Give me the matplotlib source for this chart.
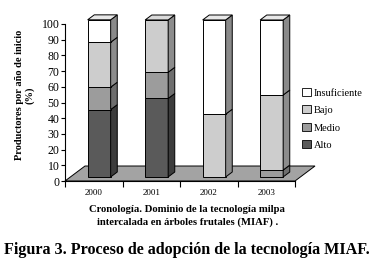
import numpy as np
import matplotlib
matplotlib.use('Agg')
import matplotlib.pyplot as plt
from matplotlib.patches import Polygon, Patch

plt.rcParams['font.family'] = ['Liberation Serif', 'DejaVu Serif']

# data (percent of producers per start year)
years = ['2000', '2001', '2002', '2003']
alto = [42.9, 50.0, 0.0, 0.0]
medio = [14.3, 16.7, 0.0, 4.4]
bajo = [28.6, 33.3, 40.0, 47.8]
insuficiente = [14.3, 0.0, 60.0, 47.8]

series = [alto, medio, bajo, insuficiente]
names = ['Alto', 'Medio', 'Bajo', 'Insuficiente']
front_cols = ['#5a5a5a', '#9c9c9c', '#cdcdcd', '#ffffff']
side_cols = ['#3c3c3c', '#6e6e6e', '#8c8c8c', '#8a8a8a']
top_cols = ['#707070', '#b0b0b0', '#dadada', '#e8e8e8']

# fake 3d depth, in data units (x in categories, y in percent)
DX, DY = 0.348, 9.55
d0, d1 = 0.27, 0.60
width = 0.4

fig = plt.figure(figsize=(3.73, 2.70), dpi=100)
ax = fig.add_axes([65 / 373, 89 / 270, 230 / 373, 157 / 270])
ax.set_xlim(0, 4)
ax.set_ylim(0, 100)

# floor
floor = Polygon([(0, 0), (4, 0), (4 + DX, DY), (DX, DY)], closed=True,
                facecolor='#a3a3a3', edgecolor='black', lw=0.7, zorder=1,
                clip_on=False)
ax.add_patch(floor)

sx0, sy0 = d0 * DX, d0 * DY
ddx, ddy = (d1 - d0) * DX, (d1 - d0) * DY
for i in range(len(years)):
    left = i + 0.5 - width / 2 + sx0
    right = left + width
    bottom = 0.0
    vals = [s[i] for s in series]
    top_idx = max(k for k in range(4) if vals[k] > 0)
    for k in range(4):
        v = vals[k]
        if v <= 0:
            continue
        yb, yt = bottom + sy0, bottom + v + sy0
        ax.bar(left, v, width=width, bottom=bottom + sy0, align='edge',
               color=front_cols[k], edgecolor='black', lw=0.7, zorder=3,
               clip_on=False)
        side = Polygon([(right, yb), (right + ddx, yb + ddy),
                        (right + ddx, yt + ddy), (right, yt)], closed=True,
                       facecolor=side_cols[k], edgecolor='black', lw=0.7,
                       zorder=3, clip_on=False)
        ax.add_patch(side)
        if k == top_idx:
            top = Polygon([(left, yt), (left + ddx, yt + ddy),
                           (right + ddx, yt + ddy), (right, yt)], closed=True,
                          facecolor=top_cols[k], edgecolor='black', lw=0.7,
                          zorder=3, clip_on=False)
            ax.add_patch(top)
        bottom += v

for s in ['top', 'right']:
    ax.spines[s].set_visible(False)
for s in ['left', 'bottom']:
    ax.spines[s].set_linewidth(0.8)
    ax.spines[s].set_zorder(4)

ax.set_yticks(np.arange(0, 101, 10))
ax.tick_params(axis='y', labelsize=8.5, length=3, width=0.8, pad=1)
ax.set_xticks(np.arange(0, 5))
ax.set_xticklabels([])
ax.set_xticks(np.arange(len(years)) + 0.5, minor=True)
ax.set_xticklabels(years, minor=True, fontsize=6.5)
ax.tick_params(axis='x', which='major', length=4, width=0.8)
ax.tick_params(axis='x', which='minor', length=0, pad=6)

fig.text(25 / 373, 1 - 95 / 270, 'Productores por año de inicio\n(%)',
         rotation=90, ha='center', va='center', fontsize=7.5,
         fontweight='bold', linespacing=1.1)

handles = [Patch(facecolor=front_cols[k], edgecolor='black', lw=0.6,
                 label=names[k]) for k in [3, 2, 1, 0]]
fig.legend(handles=handles, loc='center left',
           bbox_to_anchor=(297 / 373, 1 - 119 / 270), frameon=False,
           fontsize=7.5, handlelength=0.8, handleheight=0.8,
           handletextpad=0.3, labelspacing=0.75, borderpad=0)

fig.text(187 / 373, 1 - 210 / 270,
         'Cronología. Dominio de la tecnología milpa', ha='center',
         va='center', fontsize=7.7, fontweight='bold')
fig.text(188 / 373, 1 - 222 / 270,
         'intercalada en árboles frutales (MIAF) .', ha='center',
         va='center', fontsize=7.7, fontweight='bold')
fig.text(187 / 373, 1 - 250 / 270,
         'Figura 3. Proceso de adopción de la tecnología MIAF.',
         ha='center', va='center', fontsize=11.6, fontweight='bold')

fig.savefig('out.png', dpi=100)
